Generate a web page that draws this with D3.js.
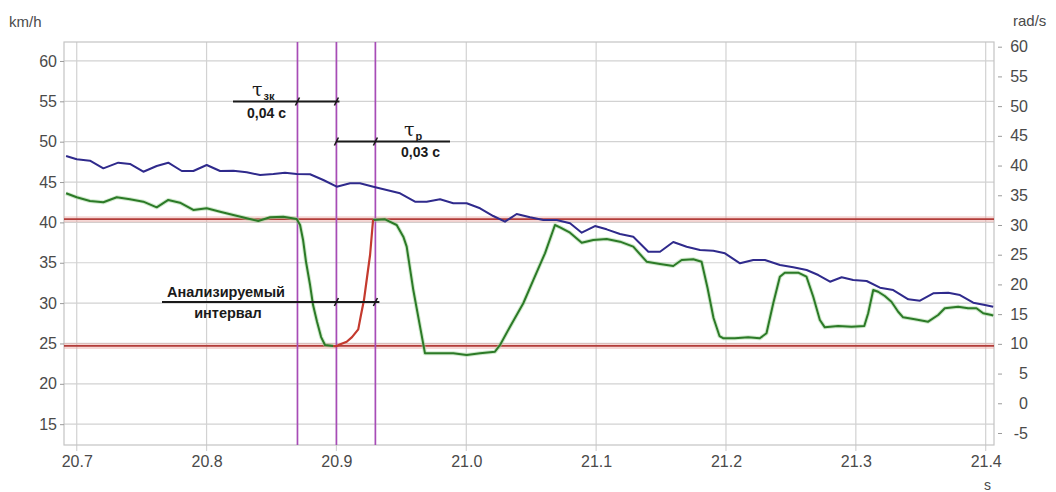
<!DOCTYPE html>
<html><head><meta charset="utf-8">
<script src="https://cdn.jsdelivr.net/npm/d3@7"></script>
<style>
html,body{margin:0;padding:0;background:#fff;}
svg{display:block;}
text{font-family:"Liberation Sans",Arial,sans-serif;}
</style></head><body>
<svg id="chart" width="1056" height="492"></svg>
<script>
// Vehicle speed (km/h) over time (s)
const speedTime = [20.6918,20.7000,20.7102,20.7205,20.7320,20.7410,20.7513,20.7616,20.7705,20.7809,20.7898,20.8001,20.8104,20.8206,20.8309,20.8412,20.8514,20.8604,20.8694,20.8797,20.8899,20.9002,20.9105,20.9181,20.9284,20.9490,20.9605,20.9695,20.9798,20.9900,21.0003,21.0106,21.0208,21.0298,21.0388,21.0491,21.0593,21.0696,21.0799,21.0889,21.0991,21.1081,21.1184,21.1286,21.1402,21.1492,21.1594,21.1697,21.1800,21.1902,21.1992,21.2108,21.2210,21.2300,21.2416,21.2518,21.2621,21.2711,21.2801,21.2891,21.2980,21.3083,21.3186,21.3288,21.3404,21.3494,21.3596,21.3712,21.3802,21.3904,21.3994,21.4058];
const speedValue = [48.23,47.82,47.65,46.70,47.40,47.24,46.28,46.99,47.40,46.37,46.37,47.11,46.37,46.41,46.21,45.87,46.00,46.16,46.00,45.96,45.25,44.42,44.84,44.84,44.42,43.61,42.57,42.57,42.86,42.37,42.37,41.75,40.79,40.09,41.04,40.63,40.30,40.30,39.89,38.72,39.55,39.14,38.56,38.23,36.37,36.37,37.57,36.99,36.58,36.49,36.17,34.93,35.34,35.34,34.72,34.44,34.10,33.48,32.65,33.20,32.86,32.74,31.91,31.62,30.47,30.30,31.21,31.29,31.00,30.05,29.77,29.55];

// Wheel speed (km/h equivalent) over time (s)
const wheelTime = [20.6918,20.7000,20.7102,20.7205,20.7308,20.7410,20.7513,20.7616,20.7705,20.7795,20.7898,20.8001,20.8104,20.8206,20.8309,20.8398,20.8489,20.8591,20.8694,20.8720,20.8743,20.8766,20.8797,20.8820,20.8851,20.8882,20.8912,20.8976,20.9002,20.9035,20.9079,20.9120,20.9168,20.9189,20.9212,20.9235,20.9259,20.9282,20.9374,20.9464,20.9515,20.9541,20.9592,20.9644,20.9682,20.9798,20.9900,21.0003,21.0106,21.0221,21.0260,21.0337,21.0439,21.0516,21.0606,21.0683,21.0722,21.0799,21.0889,21.0978,21.1081,21.1184,21.1286,21.1389,21.1492,21.1594,21.1659,21.1748,21.1812,21.1858,21.1904,21.1950,21.1981,21.2068,21.2171,21.2260,21.2312,21.2364,21.2415,21.2453,21.2556,21.2620,21.2672,21.2723,21.2761,21.2864,21.2967,21.3065,21.3095,21.3134,21.3172,21.3223,21.3274,21.3326,21.3364,21.3454,21.3557,21.3634,21.3685,21.3788,21.3865,21.3929,21.3981,21.4045,21.4058];
const wheelValue = [43.61,43.11,42.65,42.49,43.11,42.86,42.57,41.87,42.78,42.44,41.54,41.75,41.33,40.92,40.51,40.17,40.63,40.71,40.42,39.68,37.82,35.09,32.24,29.76,27.65,25.79,24.81,24.68,24.68,24.93,25.21,25.79,26.75,28.53,30.38,33.11,35.96,40.30,40.38,39.68,38.23,36.99,31.62,27.08,23.78,23.78,23.78,23.57,23.78,23.98,24.81,27.08,29.98,32.86,36.17,39.68,39.39,38.72,37.48,37.82,37.94,37.61,36.99,35.13,34.85,34.60,35.34,35.43,35.13,31.87,28.15,25.92,25.64,25.64,25.76,25.64,26.26,29.98,33.27,33.77,33.77,33.27,30.79,27.91,27.00,27.16,27.08,27.16,28.74,31.62,31.41,30.88,30.17,28.93,28.24,27.99,27.70,28.53,29.36,29.55,29.36,29.36,28.74,28.53,28.45];

// Analysed interval of the wheel trace (s)
const analysedFrom = 20.8976;
const analysedTo = 20.9282;

// Event markers (s) and threshold levels (km/h)
const markerTimes = [20.87, 20.90, 20.93];
const thresholds = [40.4, 24.7];

// Axis ticks
const xTicks = [20.7, 20.8, 20.9, 21.0, 21.1, 21.2, 21.3, 21.4];
const leftTicks = [15, 20, 25, 30, 35, 40, 45, 50, 55, 60];
const rightTicks = [-5, 0, 5, 10, 15, 20, 25, 30, 35, 40, 45, 50, 55, 60];

const svg = d3.select("#chart");
const L = 64, R = 994, T = 42, B = 445;

const x = d3.scaleLinear().domain([20.6902, 21.4064]).range([L, R]);
const y = d3.scaleLinear().domain([12.42, 62.35]).range([B, T]);
const y2 = d3.scaleLinear().domain([-7.02, 60.79]).range([B, T]);

const labelColor = "#4a4a4a";
const gridColor = "#d2d2d2";

// grid
const grid = svg.append("g");
grid.selectAll(".hg").data(leftTicks).join("line")
  .attr("x1", L).attr("x2", R)
  .attr("y1", d => y(d)).attr("y2", d => y(d))
  .attr("stroke", gridColor).attr("stroke-width", 1.2);
grid.selectAll(".vg").data(xTicks).join("line")
  .attr("x1", d => x(d)).attr("x2", d => x(d))
  .attr("y1", T).attr("y2", B + 6)
  .attr("stroke", gridColor).attr("stroke-width", 1.2);
svg.append("rect").attr("x", L).attr("y", T).attr("width", R - L).attr("height", B - T)
  .attr("fill", "none").attr("stroke", "#c4c4c4").attr("stroke-width", 1.2);

// axes
const plain = d => String(d);
const axL = svg.append("g").attr("transform", `translate(${L},0)`)
  .call(d3.axisLeft(y).tickValues(leftTicks).tickFormat(plain).tickSize(4).tickPadding(3).tickSizeOuter(0));
const axR = svg.append("g").attr("transform", `translate(998,0)`)
  .call(d3.axisRight(y2).tickValues(rightTicks).tickFormat(plain).tickSize(4).tickPadding(3).tickSizeOuter(0));
axR.selectAll("text").attr("text-anchor", "end").attr("x", 30);
const axB = svg.append("g").attr("transform", `translate(0,${B})`)
  .call(d3.axisBottom(x).tickValues(xTicks).tickFormat(d3.format(".1f")).tickSize(0).tickPadding(11).tickSizeOuter(0));
[axL, axR, axB].forEach(a => {
  a.select(".domain").remove();
  a.selectAll("line").attr("stroke", "#9a9a9a");
  a.selectAll("text").attr("fill", labelColor).style("font-size", "16px")
    .style("font-family", "'Liberation Sans', Arial, sans-serif");
});

svg.append("text").attr("x", 9).attr("y", 27).text("km/h")
  .attr("fill", labelColor).style("font-size", "15px");
svg.append("text").attr("x", 1013).attr("y", 26).text("rad/s")
  .attr("fill", labelColor).style("font-size", "15px");
svg.append("text").attr("x", 984).attr("y", 490).text("s")
  .attr("fill", labelColor).style("font-size", "14px");

// threshold levels
thresholds.forEach(v => {
  svg.append("line").attr("x1", L).attr("x2", R).attr("y1", y(v)).attr("y2", y(v))
    .attr("stroke", "#e9a7a3").attr("stroke-width", 6).attr("opacity", 0.45);
  svg.append("line").attr("x1", L).attr("x2", R).attr("y1", y(v)).attr("y2", y(v))
    .attr("stroke", "#b23d3a").attr("stroke-width", 1.8);
});

// event markers
svg.selectAll(".marker").data(markerTimes).join("line")
  .attr("x1", d => x(d)).attr("x2", d => x(d)).attr("y1", T).attr("y2", B)
  .attr("stroke", "#a74cb6").attr("stroke-width", 1.7);

// traces
const line = d3.line().x(d => x(d[0])).y(d => y(d[1]));
const speedPts = speedTime.map((t, i) => [t, speedValue[i]]);
const wheelPts = wheelTime.map((t, i) => [t, wheelValue[i]]);
const before = wheelPts.filter(d => d[0] <= analysedFrom);
const inside = wheelPts.filter(d => d[0] >= analysedFrom && d[0] <= analysedTo);
const after = wheelPts.filter(d => d[0] >= analysedTo);

[before, after].forEach(seg => {
  svg.append("path").attr("d", line(seg)).attr("fill", "none")
    .attr("stroke", "#9fd49a").attr("stroke-width", 4).attr("opacity", 0.5)
    .attr("stroke-linejoin", "round");
  svg.append("path").attr("d", line(seg)).attr("fill", "none")
    .attr("stroke", "#2c7a27").attr("stroke-width", 2).attr("stroke-linejoin", "round");
});
svg.append("path").attr("d", line(inside)).attr("fill", "none")
  .attr("stroke", "#c43a2e").attr("stroke-width", 2.2).attr("stroke-linejoin", "round");
svg.append("path").attr("d", line(speedPts)).attr("fill", "none")
  .attr("stroke", "#2f2a8c").attr("stroke-width", 2).attr("stroke-linejoin", "round");

// annotations
const ann = svg.append("g").attr("fill", "#1a1a1a");
function bracket(x1, x2, yy, ticks) {
  ann.append("line").attr("x1", x1).attr("x2", x2).attr("y1", yy).attr("y2", yy)
    .attr("stroke", "#1a1a1a").attr("stroke-width", 1.8);
  ticks.forEach(t => {
    ann.append("line").attr("x1", x(t) - 2).attr("x2", x(t) + 2)
      .attr("y1", yy + 4).attr("y2", yy - 4)
      .attr("stroke", "#1a1a1a").attr("stroke-width", 1.6);
  });
}
function tau(tx, ty, sub) {
  const t = ann.append("text").attr("x", tx).attr("y", ty)
    .style("font-family", "'DejaVu Serif', serif").style("font-size", "19px").text("τ");
  t.append("tspan").attr("dy", 4).attr("dx", 1)
    .style("font-family", "'Liberation Sans', Arial, sans-serif")
    .style("font-size", "11px").style("font-weight", "bold").text(sub);
}
function bold(tx, ty, s, size, anchor) {
  ann.append("text").attr("x", tx).attr("y", ty).attr("text-anchor", anchor || "start")
    .style("font-size", size + "px").style("font-weight", "bold").text(s);
}

bracket(233, x(20.90) + 3, 101.5, [20.87, 20.90]);
tau(252, 96, "зк");
bold(247, 118, "0,04 с", 14);

bracket(x(20.90), 450, 141.5, [20.90, 20.93]);
tau(404, 136, "р");
bold(401, 157, "0,03 с", 14);

bracket(162, x(20.93) + 4, 302, [20.90, 20.93]);
bold(226, 297, "Анализируемый", 14.5, "middle");
bold(228, 318, "интервал", 14.5, "middle");
</script>
</body></html>
